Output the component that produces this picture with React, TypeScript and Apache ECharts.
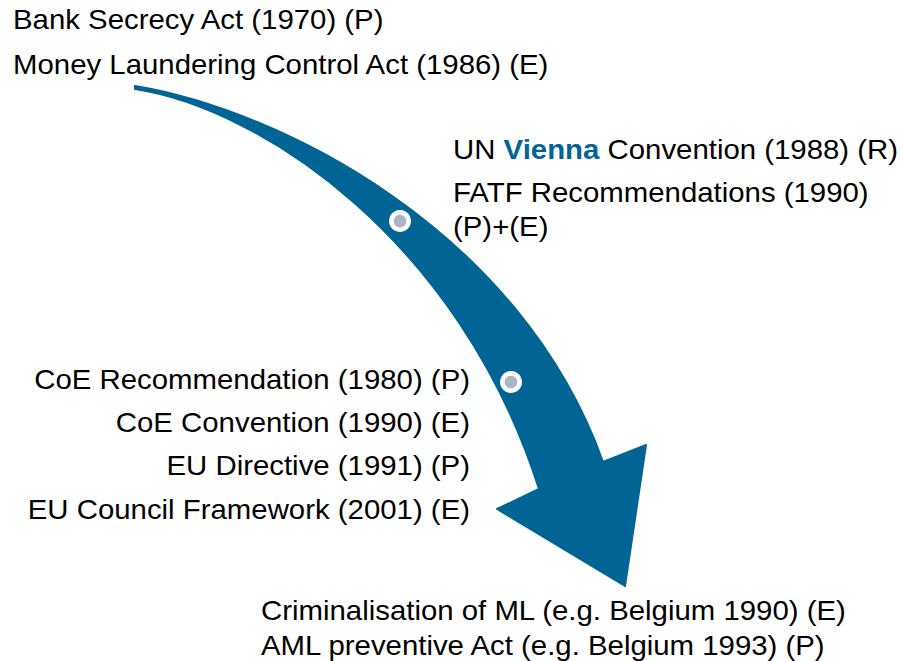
import React, { useEffect, useRef } from "react";
import * as echarts from "echarts";

// Labels grouped by where they sit around the arrow
const topLabels: string[] = [
  "Bank Secrecy Act (1970) (P)",
  "Money Laundering Control Act (1986) (E)",
];
const rightLabels: string[] = [
  "UN {v|Vienna} Convention (1988) (R)",
  "FATF Recommendations (1990)",
  "(P)+(E)",
];
const leftLabels: string[] = [
  "CoE Recommendation (1980) (P)",
  "CoE Convention (1990) (E)",
  "EU Directive (1991) (P)",
  "EU Council Framework (2001) (E)",
];
const bottomLabels: string[] = [
  "Criminalisation of ML (e.g. Belgium 1990) (E)",
  "AML preventive Act (e.g. Belgium 1993) (P)",
];

const BLUE = "#006595";
const DOT = "#A9B4C6";
const FONT = '"Liberation Sans", Arial, Helvetica, sans-serif';
const FS = 27;
const SX = 1.088;

const ARROW_D =
  "M135 86 C280 110 520 230 603 462 L646 445 L625 586 L497 509 L539 489 C460 240 260 108 135 89 Z";

let registered = false;

export default function App() {
  const ref = useRef<HTMLDivElement>(null);

  useEffect(() => {
    if (!ref.current) return;
    if (!registered) {
      echarts.graphic.registerShape("arrowShape", echarts.graphic.extendPath(ARROW_D, {}) as any);
      registered = true;
    }
    const chart = echarts.init(ref.current, undefined, { renderer: "svg" });

    const txt = (text: string, x: number, y: number, align: string) => ({
      type: "text",
      x,
      y,
      scaleX: SX,
      scaleY: 1,
      style: {
        text,
        fill: "#000",
        fontSize: FS,
        fontFamily: FONT,
        align,
        verticalAlign: "middle",
        rich: {
          v: { fill: BLUE, fontWeight: "bold", fontSize: FS, fontFamily: FONT },
        },
      },
    });

    const topY = [19, 64.5];
    const rightY = [149, 192, 226];
    const leftY = [379, 422, 465, 509];
    const bottomY = [610, 645];

    const graphics: any[] = [
      {
        type: "arrowShape",
        x: 0,
        y: 0,
        scaleX: 1,
        scaleY: 1,
        style: { fill: BLUE, stroke: BLUE, lineWidth: 2, lineJoin: "round" },
      },
      { type: "circle", shape: { cx: 400, cy: 221, r: 11 }, style: { fill: "#fff" } },
      { type: "circle", shape: { cx: 400, cy: 221, r: 6.3 }, style: { fill: DOT } },
      { type: "circle", shape: { cx: 511, cy: 382, r: 11 }, style: { fill: "#fff" } },
      { type: "circle", shape: { cx: 511, cy: 382, r: 6.3 }, style: { fill: DOT } },
      ...topLabels.map((t, i) => txt(t, 13, topY[i], "left")),
      ...rightLabels.map((t, i) => txt(t, 453, rightY[i], "left")),
      ...leftLabels.map((t, i) => txt(t, 470, leftY[i], "right")),
      ...bottomLabels.map((t, i) => txt(t, 261, bottomY[i], "left")),
    ];

    chart.setOption({
      animation: false,
      backgroundColor: "#ffffff",
      graphic: { elements: graphics },
    });

    return () => chart.dispose();
  }, []);

  return (
    <div
      ref={ref}
      style={{ position: "fixed", left: 0, top: 0, width: 900, height: 661 }}
    />
  );
}
